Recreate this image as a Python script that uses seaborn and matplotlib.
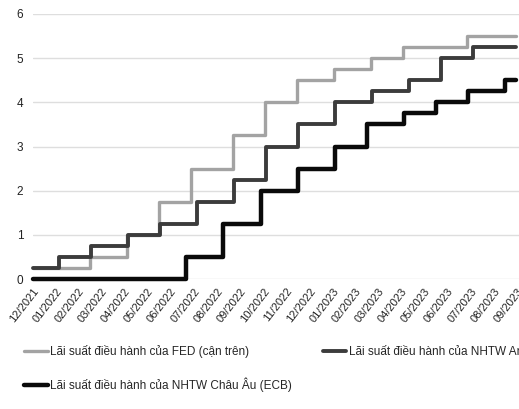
import matplotlib
matplotlib.use("Agg")
import matplotlib.pyplot as plt
import matplotlib.dates as mdates
import pandas as pd
import seaborn as sns

# Policy-rate decisions: date of change and new rate (%)
fed_dates = ["2021-12-31", "2022-03-16", "2022-05-04", "2022-06-15", "2022-07-27",
             "2022-09-21", "2022-11-02", "2022-12-14", "2023-02-01", "2023-03-22",
             "2023-05-03", "2023-07-26", "2023-09-29"]
fed_rates = [0.25, 0.5, 1.0, 1.75, 2.5, 3.25, 4.0, 4.5, 4.75, 5.0, 5.25, 5.5, 5.5]

boe_dates = ["2021-12-31", "2022-02-03", "2022-03-17", "2022-05-05", "2022-06-16",
             "2022-08-04", "2022-09-22", "2022-11-03", "2022-12-15", "2023-02-02",
             "2023-03-23", "2023-05-11", "2023-06-22", "2023-08-03", "2023-09-29"]
boe_rates = [0.25, 0.5, 0.75, 1.0, 1.25, 1.75, 2.25, 3.0, 3.5, 4.0, 4.25, 4.5, 5.0,
             5.25, 5.25]

ecb_dates = ["2021-12-31", "2022-07-21", "2022-09-08", "2022-10-27", "2022-12-15",
             "2023-02-02", "2023-03-16", "2023-05-04", "2023-06-15", "2023-07-27",
             "2023-09-14", "2023-09-29"]
ecb_rates = [0.0, 0.5, 1.25, 2.0, 2.5, 3.0, 3.5, 3.75, 4.0, 4.25, 4.5, 4.5]

series_names = ["Lãi suất điều hành của FED (cận trên)",
                "Lãi suất điều hành của NHTW Anh",
                "Lãi suất điều hành của NHTW Châu Âu (ECB)"]
series_colors = ["#a3a3a3", "#3c3c3c", "#0a0a0a"]
series_widths = [2.4, 2.8, 3.2]

frames = []
for name, d, r in zip(series_names,
                      [fed_dates, boe_dates, ecb_dates],
                      [fed_rates, boe_rates, ecb_rates]):
    frames.append(pd.DataFrame({"date": pd.to_datetime(d), "rate": r, "series": name}))
df = pd.concat(frames, ignore_index=True)

sns.set_theme(style="white")
plt.rcParams["font.family"] = ["Liberation Sans", "DejaVu Sans"]

W, H = 519, 409
fig = plt.figure(figsize=(W / 100, H / 100), dpi=100)
x0, x1 = 33, 528.5
y0, y1 = 279, 14
ax = fig.add_axes([x0 / W, (H - y0) / H, (x1 - x0) / W, (y0 - y1) / H])

for name, col, lw in zip(series_names, series_colors, series_widths):
    sub = df[df["series"] == name]
    sns.lineplot(data=sub, x="date", y="rate", ax=ax, color=col, linewidth=lw,
                 drawstyle="steps-post", label=name, clip_on=False, zorder=3)

ax.set_xlim(pd.Timestamp("2021-12-31"), pd.Timestamp("2023-10-15"))
ax.set_ylim(0, 6)
ax.set_yticks(range(0, 7))
ax.grid(axis="y", color="#dedede", linewidth=1.0)
ax.grid(axis="x", visible=False)
for s in ax.spines.values():
    s.set_visible(False)

ticks = pd.date_range("2021-12-31", "2023-09-30", freq="ME")
ax.set_xticks(ticks)
ax.xaxis.set_major_formatter(mdates.DateFormatter("%m/%Y"))
ax.tick_params(axis="x", labelsize=8.0, length=0, pad=5, colors="#222222")
ax.tick_params(axis="y", labelsize=8.5, length=0, pad=7, colors="#222222")
for lab in ax.get_xticklabels():
    lab.set_rotation(52)
    lab.set_ha("right")
    lab.set_rotation_mode("anchor")
ax.set_xlabel("")
ax.set_ylabel("")

handles, labels = ax.get_legend_handles_labels()
order = [0, 2, 1]
ax.legend([handles[i] for i in order], [labels[i] for i in order],
          ncol=2, frameon=False, fontsize=8.5,
          loc="upper left", bbox_to_anchor=(24 / W, 1 - 345 / H),
          bbox_transform=fig.transFigure,
          handlelength=2.0, handletextpad=0.2, labelspacing=1.65,
          columnspacing=2.6, borderaxespad=0, borderpad=0)

fig.savefig("out.png", dpi=100)
